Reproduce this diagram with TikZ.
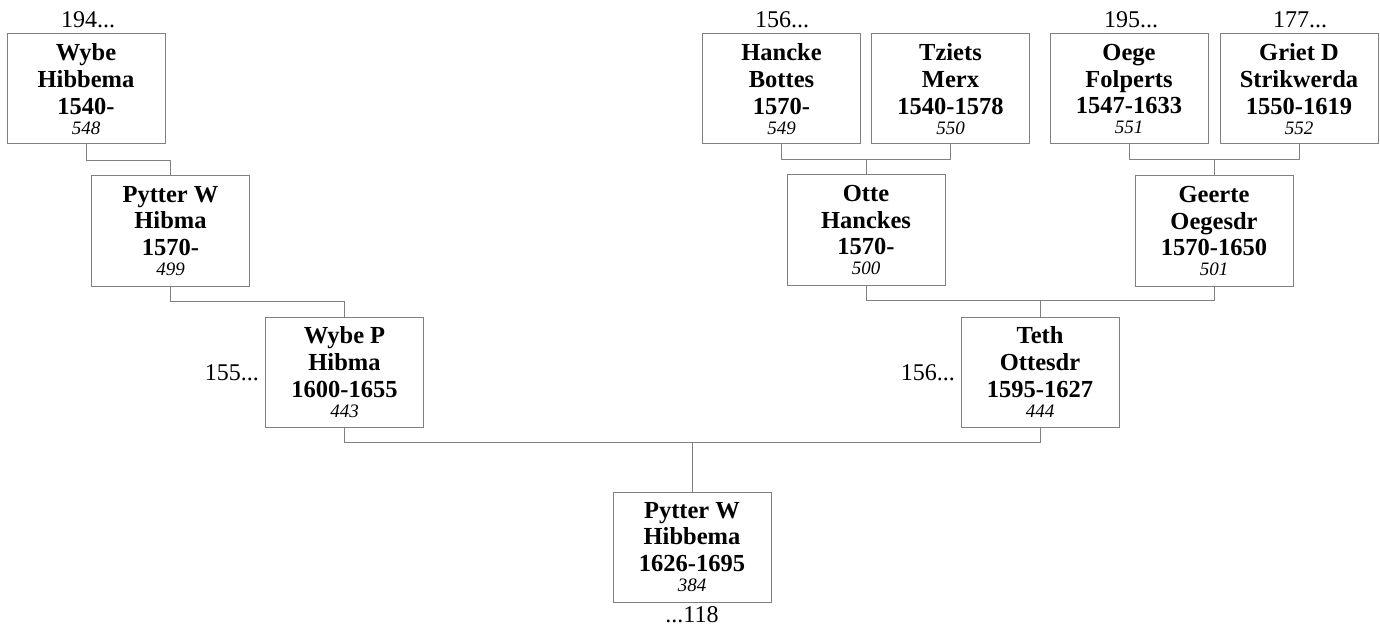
\documentclass[tikz,border=0pt]{standalone}
\usepackage{fontspec}
\setmainfont{Liberation Serif}
\usetikzlibrary{calc}
\definecolor{linegray}{RGB}{128,128,128}
\newcommand{\pnum}[1]{{\fontsize{19}{20}\selectfont\mdseries\itshape #1}}
\tikzset{
  person/.style={draw=linegray, line width=1pt, minimum width=158pt, minimum height=110pt,
    inner sep=0pt, align=center, font=\bfseries\fontsize{24.5}{26.6}\selectfont},
  lab/.style={inner sep=0pt, font=\fontsize{24}{27}\selectfont},
  conn/.style={draw=linegray, line width=1pt}
}
\begin{document}
\begin{tikzpicture}[x=1pt,y=-1pt]
\useasboundingbox (0,0) rectangle (1380,628);
% persons
\node[person] (A) at (86,89) {Wybe\\Hibbema\\1540-\\[-6.6pt]\pnum{548}};
\node[person] (B) at (170.5,231) {Pytter W\\Hibma\\1570-\\[-6.6pt]\pnum{499}};
\node[person] (C) at (344.5,372) {Wybe P\\Hibma\\1600-1655\\[-6.6pt]\pnum{443}};
\node[person] (D) at (692,547) {Pytter W\\Hibbema\\1626-1695\\[-6.6pt]\pnum{384}};
\node[person] (E) at (1040,372) {Teth\\Ottesdr\\1595-1627\\[-6.6pt]\pnum{444}};
\node[person] (F) at (866,230) {Otte\\Hanckes\\1570-\\[-6.6pt]\pnum{500}};
\node[person] (G) at (1214,231) {Geerte\\Oegesdr\\1570-1650\\[-6.6pt]\pnum{501}};
\node[person] (H) at (781.5,89) {Hancke\\Bottes\\1570-\\[-6.6pt]\pnum{549}};
\node[person] (I) at (950.5,89) {Tziets\\Merx\\1540-1578\\[-6.6pt]\pnum{550}};
\node[person] (J) at (1129,89) {Oege\\Folperts\\1547-1633\\[-6.6pt]\pnum{551}};
\node[person] (K) at (1299,89) {Griet D\\Strikwerda\\1550-1619\\[-6.6pt]\pnum{552}};
% labels
\node[lab, anchor=base] (lA) at (88,28) {194...};
\node[lab, anchor=base] (lH) at (782,28) {156...};
\node[lab, anchor=base] (lJ) at (1131,28) {195...};
\node[lab, anchor=base] (lK) at (1300,28) {177...};
\node[lab, anchor=base east] (lC) at (259,380) {155...};
\node[lab, anchor=base east] (lE) at (955,380) {156...};
\node[lab, anchor=base] (lD) at (692,622) {...118};
% connectors
\draw[conn] (A.south) -- ++(0,16) -| (B.north);
\draw[conn] (B.south) -- ++(0,15) -| (C.north);
\coordinate (cd) at ($(C.south)+(0,15)$);
\draw[conn] (C.south) -- (cd) -| (E.south);
\draw[conn] (D.north) -- (D.north |- cd);
\coordinate (fg) at ($(F.south)+(0,15)$);
\draw[conn] (F.south) -- (fg) -| (G.south);
\draw[conn] (E.north) -- (E.north |- fg);
\coordinate (hi) at ($(H.south)+(0,15)$);
\draw[conn] (H.south) -- (hi) -| (I.south);
\draw[conn] (F.north) -- (F.north |- hi);
\coordinate (jk) at ($(J.south)+(0,15)$);
\draw[conn] (J.south) -- (jk) -| (K.south);
\draw[conn] (G.north) -- (G.north |- jk);
\end{tikzpicture}
\end{document}
